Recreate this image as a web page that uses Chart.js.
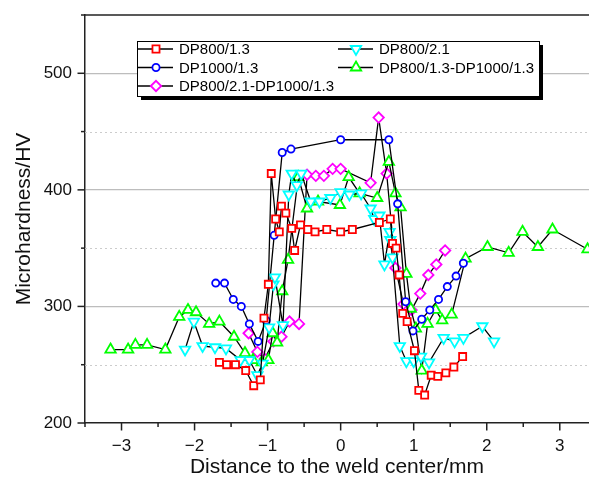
<!DOCTYPE html>
<html>
<head>
<meta charset="utf-8">
<script src="https://cdn.jsdelivr.net/npm/chart.js@4.4.1/dist/chart.umd.min.js"></script>
<style>
  html, body { margin: 0; padding: 0; background: #fff; overflow: hidden; }
  canvas { display: block; }
</style>
</head>
<body>
<canvas id="hvChart" width="589" height="480"></canvas>
<script>
// hardness profiles, [distance mm, HV]
const dp800_13 = [[-1.66,252],[-1.56,250],[-1.44,250],[-1.30,245],[-1.19,232],[-1.10,237],[-1.05,290],[-0.99,319],[-0.95,414],[-0.89,375],[-0.84,364],[-0.81,386],[-0.75,380],[-0.67,367],[-0.63,348],[-0.55,370],[-0.45,366],[-0.35,364],[-0.19,366],[0.00,364],[0.16,366],[0.53,372],[0.68,375],[0.71,354],[0.76,350],[0.80,327],[0.85,294],[0.91,287],[1.01,262],[1.07,228],[1.15,224],[1.24,241],[1.33,240],[1.44,243],[1.55,248],[1.67,257]];
const dp800_21 = [[-2.13,263],[-2.01,287],[-1.89,266],[-1.72,265],[-1.57,264],[-1.37,254],[-1.25,254],[-1.14,241],[-1.07,251],[-0.98,282],[-0.92,319],[-0.90,325],[-0.79,284],[-0.71,396],[-0.67,414],[-0.60,404],[-0.54,414],[-0.41,390],[-0.29,390],[-0.14,393],[0.00,398],[0.12,396],[0.28,397],[0.41,384],[0.46,375],[0.53,378],[0.60,336],[0.67,364],[0.68,357],[0.71,342],[0.81,266],[0.90,253],[1.00,253],[1.10,257],[1.21,252],[1.41,273],[1.56,270],[1.68,273],[1.94,283],[2.10,270]];
const dp1000_13 = [[-1.71,320],[-1.59,320],[-1.47,306],[-1.36,300],[-1.25,285],[-1.13,270],[-1.02,288],[-0.91,361],[-0.80,432],[-0.68,435],[0.00,443],[0.66,443],[0.78,388],[0.89,304],[0.99,279],[1.11,289],[1.22,297],[1.34,306],[1.46,317],[1.58,326],[1.68,337]];
const dp800_13_dp1000 = [[-3.15,263],[-2.91,263],[-2.81,267],[-2.65,267],[-2.40,263],[-2.21,291],[-2.09,297],[-1.98,295],[-1.80,285],[-1.66,287],[-1.46,274],[-1.31,260],[-1.20,254],[-1.08,252],[-0.99,254],[-0.93,277],[-0.87,269],[-0.80,313],[-0.72,340],[-0.58,411],[-0.46,384],[-0.31,390],[-0.01,387],[0.11,411],[0.26,397],[0.50,393],[0.66,424],[0.75,397],[0.82,385],[0.90,328],[0.96,298],[1.03,281],[1.11,245],[1.19,285],[1.30,297],[1.39,288],[1.52,293],[1.71,341],[2.01,351],[2.30,346],[2.49,364],[2.70,351],[2.90,366],[3.38,349]];
const dp800_21_dp1000 = [[-1.26,277],[-1.14,261],[-1.04,255],[-0.92,270],[-0.81,274],[-0.70,287],[-0.57,285],[-0.46,413],[-0.34,412],[-0.23,412],[-0.11,418],[0.00,418],[0.41,406],[0.52,462],[0.63,414],[0.75,333],[0.86,302],[0.97,297],[1.09,311],[1.20,327],[1.31,336],[1.43,348]];

const xLabelTicks = [-3, -2, -1, 0, 1, 2, 3];
const xMinorTicks = [-3.5, -2.5, -1.5, -0.5, 0.5, 1.5, 2.5];
const yLabelTicks = [200, 300, 400, 500];
const yMinorTicks = [250, 350, 450, 550];

const FONT = '"Liberation Sans", Arial, sans-serif';

function series(label, pts, color, style, radius, rotation) {
    return {
        label: label,
        data: pts.map(p => ({ x: p[0], y: p[1] })),
        showLine: true,
        borderColor: '#000',
        borderWidth: 1.3,
        pointStyle: style,
        pointRadius: radius,
        pointHoverRadius: radius,
        pointRotation: rotation || 0,
        pointBorderColor: color,
        pointBackgroundColor: '#fff',
        pointBorderWidth: 1.8,
        markerColor: color
    };
}

const datasets = [
    series('DP800/1.3', dp800_13, '#ff0000', 'rect', 5),
    series('DP800/2.1', dp800_21, '#00ffff', 'triangle', 6, 180),
    series('DP1000/1.3', dp1000_13, '#0000ff', 'circle', 3.6),
    series('DP800/1.3-DP1000/1.3', dp800_13_dp1000, '#00ff00', 'triangle', 6),
    series('DP800/2.1-DP1000/1.3', dp800_21_dp1000, '#ff00ff', 'rectRot', 5.2)
];

function drawMarker(ctx, ds, x, y) {
    ctx.save();
    ctx.fillStyle = '#fff';
    ctx.strokeStyle = ds.markerColor;
    ctx.lineWidth = ds.pointBorderWidth;
    if (Chart.helpers && Chart.helpers.drawPoint) {
        Chart.helpers.drawPoint(ctx, {
            pointStyle: ds.pointStyle,
            radius: ds.pointRadius,
            rotation: ds.pointRotation,
            borderWidth: ds.pointBorderWidth
        }, x, y);
    } else {
        ctx.beginPath();
        ctx.arc(x, y, ds.pointRadius, 0, Math.PI * 2);
        ctx.fill();
        ctx.stroke();
    }
    ctx.restore();
}

const framePlugin = {
    id: 'frame',
    beforeDatasetsDraw(chart) {
        const { ctx, chartArea: a, scales: { y } } = chart;
        ctx.save();
        ctx.strokeStyle = '#cccccc';
        ctx.lineWidth = 1;
        ctx.setLineDash([2, 3]);
        yMinorTicks.forEach(v => {
            if (v >= 550) return;
            const py = Math.round(y.getPixelForValue(v)) + 0.5;
            ctx.beginPath();
            ctx.moveTo(a.left, py);
            ctx.lineTo(a.right, py);
            ctx.stroke();
        });
        ctx.restore();
    },
    afterDraw(chart) {
        const { ctx, chartArea: a, scales: { x, y } } = chart;
        ctx.save();
        ctx.strokeStyle = '#222';
        ctx.lineWidth = 1.5;
        // top frame line
        ctx.beginPath();
        ctx.moveTo(a.left, a.top);
        ctx.lineTo(a.right, a.top);
        ctx.stroke();
        // tick marks, outward
        const tick = (v, len, horiz) => {
            ctx.beginPath();
            if (horiz) {
                const px = x.getPixelForValue(v);
                ctx.moveTo(px, a.bottom);
                ctx.lineTo(px, a.bottom + len);
            } else {
                const py = y.getPixelForValue(v);
                ctx.moveTo(a.left, py);
                ctx.lineTo(a.left - len, py);
            }
            ctx.stroke();
        };
        xLabelTicks.forEach(v => tick(v, 7.5, true));
        xMinorTicks.forEach(v => tick(v, 4, true));
        yLabelTicks.forEach(v => tick(v, 7.5, false));
        yMinorTicks.forEach(v => tick(v, 4, false));
        ctx.restore();

        // legend box with shadow
        const bx = 137, by = 41, bw = 402, bh = 55;
        ctx.save();
        ctx.fillStyle = '#000';
        ctx.fillRect(bx + 4, by + 4, bw, bh);
        ctx.fillStyle = '#fff';
        ctx.fillRect(bx, by, bw, bh);
        ctx.strokeStyle = '#000';
        ctx.lineWidth = 1;
        ctx.strokeRect(bx + 0.5, by + 0.5, bw, bh);
        ctx.font = '15px ' + FONT;
        ctx.textBaseline = 'middle';
        ctx.fillStyle = '#000';
        const rows = [49, 67.5, 86];
        const cols = [138, 338];
        chart.data.datasets.forEach((ds, i) => {
            const cx = cols[i % 2], cy = rows[Math.floor(i / 2)];
            ctx.strokeStyle = '#000';
            ctx.lineWidth = 1.3;
            ctx.beginPath();
            ctx.moveTo(cx, cy);
            ctx.lineTo(cx + 35, cy);
            ctx.stroke();
            drawMarker(ctx, ds, cx + 18, cy);
            ctx.fillStyle = '#000';
            ctx.fillText(ds.label, cx + 41, cy + 1);
        });
        ctx.restore();
    }
};

const ctx = document.getElementById('hvChart').getContext('2d');
window.hvChart = new Chart(ctx, {
    type: 'scatter',
    data: { datasets: datasets },
    plugins: [framePlugin],
    options: {
        responsive: false,
        maintainAspectRatio: false,
        animation: false,
        layout: { autoPadding: false, padding: { top: 15, right: 0, left: 0, bottom: 0 } },
        plugins: {
            legend: { display: false },
            tooltip: { enabled: false }
        },
        scales: {
            x: {
                type: 'linear',
                min: -3.5,
                max: 3.4,
                afterBuildTicks: s => { s.ticks = xLabelTicks.map(v => ({ value: v })); },
                afterFit: s => { s.height = 57; s.paddingLeft = 0; s.paddingRight = 0; },
                grid: { display: false, drawTicks: false },
                border: { display: true, color: '#222', width: 1.5 },
                ticks: {
                    padding: 13,
                    color: '#111',
                    font: { family: FONT, size: 17 },
                    callback: v => (v < 0 ? '\u2212' + Math.abs(v) : String(v))
                },
                title: {
                    display: true,
                    text: 'Distance to the weld center/mm',
                    color: '#111',
                    font: { family: FONT, size: 21 },
                    padding: { top: 0, bottom: 0 }
                }
            },
            y: {
                min: 200,
                max: 550,
                afterBuildTicks: s => {
                    s.ticks = yLabelTicks.concat(yMinorTicks).sort((a, b) => a - b).map(v => ({ value: v }));
                },
                afterFit: s => { s.width = 85; s.paddingTop = 0; s.paddingBottom = 0; },
                grid: {
                    drawTicks: false,
                    lineWidth: 1.2,
                    color: c => ([300, 400, 500].includes(c.tick.value) ? '#bdbdbd' : 'rgba(0,0,0,0)')
                },
                border: { display: true, color: '#222', width: 1.5 },
                ticks: {
                    padding: 13,
                    color: '#111',
                    font: { family: FONT, size: 17 },
                    callback: v => (v % 100 === 0 ? String(v) : '')
                },
                title: {
                    display: true,
                    text: 'Microhardness/HV',
                    color: '#111',
                    font: { family: FONT, size: 21 },
                    padding: { top: 12, bottom: 0 }
                }
            }
        }
    }
});
</script>
</body>
</html>
